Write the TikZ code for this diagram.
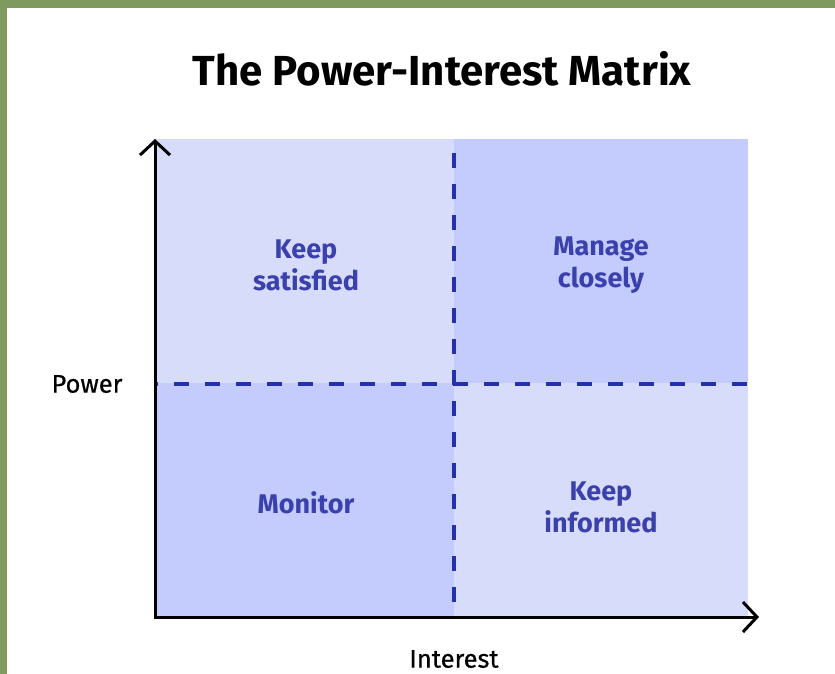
\documentclass[tikz,border=0pt]{standalone}
\usepackage{fontspec}
\setmainfont{Fira Sans}
\newfontfamily\medfont[FakeBold=0.5]{Fira Sans}
\usetikzlibrary{arrows.meta}
\definecolor{frame}{HTML}{7E9A5E}
\definecolor{qlight}{HTML}{D8DCFB}
\definecolor{qdark}{HTML}{C3CCFD}
\definecolor{dash}{HTML}{2430AE}
\definecolor{qtext}{HTML}{3A40AC}
\tikzset{
  qlabel/.style={text=qtext, font=\fontsize{27}{32}\selectfont\bfseries, align=center},
  axlabel/.style={text=black, font=\fontsize{25.5}{30}\selectfont\medfont, inner sep=1pt},
  divider/.style={draw=dash, line width=4pt, dash pattern=on 15pt off 16pt},
  axis/.style={draw=black, line width=3pt, -{Straight Barb[length=14pt,width=30pt,line width=3pt]}}
}
\begin{document}
\begin{tikzpicture}[x=1pt,y=-1pt]
\useasboundingbox (0,0) rectangle (835,674);
\fill[white] (0,0) rectangle (835,674);
\fill[frame] (0,0) rectangle (835,8);
\fill[frame] (0,0) rectangle (7,674);
% quadrants
\fill[qlight] (155,139) rectangle (454,383);
\fill[qdark] (454,139) rectangle (748,383);
\fill[qdark] (155,383) rectangle (454,617);
\fill[qlight] (454,383) rectangle (748,617);
% coordinates
\coordinate (O) at (155,617);
\coordinate (T) at (155,139);
\coordinate (R) at (759,617);
\coordinate (ht) at (155,384);
\coordinate (hr) at (748,384);
\coordinate (vt) at (454,139);
\coordinate (vb) at (454,617);
% dividers
\draw[divider, dash phase=12pt] (ht) -- (hr);
\draw[divider, dash phase=-14pt] (vt) -- (vb);
% axes
\draw[axis] (O) -- (T);
\draw[axis] ([xshift=-1.5pt]O) -- (R);
% labels
\node[font=\fontsize{42}{48}\selectfont\bfseries] (title) at (442,69) {The Power-Interest Matrix};
\node[qlabel] (ks) at (306,265) {Keep\\satisfied};
\node[qlabel] (mc) at (601,265) {Manage\\closely};
\node[qlabel] (mo) at (306,503) {Monitor};
\node[qlabel] (ki) at (601,507) {Keep\\informed};
\node[axlabel] (pw) at (87,384) {Power};
\node[axlabel] (in) at (454,659) {Interest};
\end{tikzpicture}
\end{document}
